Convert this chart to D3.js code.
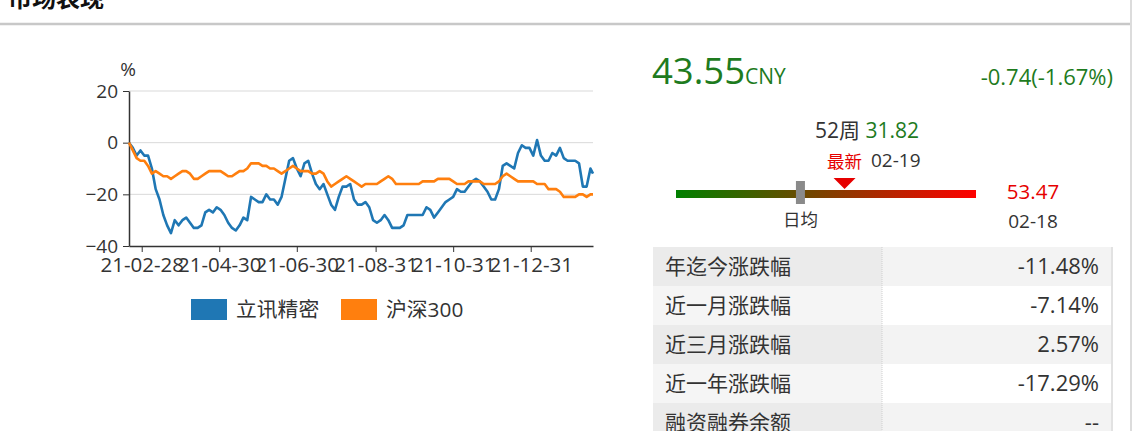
<!DOCTYPE html>
<html>
<head>
<meta charset="utf-8">
<script src="https://cdn.jsdelivr.net/npm/d3@7"></script>
<style>
  body { margin: 0; background: #fff; }
  svg text { font-family: "Open Sans", "Noto Sans CJK SC", sans-serif; }
</style>
</head>
<body>
<div id="chart"></div>
<script>
// dates of the sampled points (every 3 days)
const dates = [
  "2021-02-18","2021-02-21","2021-02-24","2021-02-27","2021-03-02","2021-03-05","2021-03-08","2021-03-11","2021-03-14","2021-03-17",
  "2021-03-20","2021-03-23","2021-03-26","2021-03-29","2021-04-01","2021-04-04","2021-04-07","2021-04-10","2021-04-13","2021-04-16",
  "2021-04-19","2021-04-22","2021-04-25","2021-04-28","2021-05-01","2021-05-04","2021-05-07","2021-05-10","2021-05-13","2021-05-16",
  "2021-05-19","2021-05-22","2021-05-25","2021-05-28","2021-05-31","2021-06-03","2021-06-06","2021-06-09","2021-06-12","2021-06-15",
  "2021-06-18","2021-06-21","2021-06-24","2021-06-27","2021-06-30","2021-07-03","2021-07-06","2021-07-09","2021-07-12","2021-07-15",
  "2021-07-18","2021-07-21","2021-07-24","2021-07-27","2021-07-30","2021-08-02","2021-08-05","2021-08-08","2021-08-11","2021-08-14",
  "2021-08-17","2021-08-20","2021-08-23","2021-08-26","2021-08-29","2021-09-01","2021-09-04","2021-09-07","2021-09-10","2021-09-13",
  "2021-09-16","2021-09-19","2021-09-22","2021-09-25","2021-09-28","2021-10-01","2021-10-04","2021-10-07","2021-10-10","2021-10-13",
  "2021-10-16","2021-10-19","2021-10-22","2021-10-25","2021-10-28","2021-10-31","2021-11-03","2021-11-06","2021-11-09","2021-11-12",
  "2021-11-15","2021-11-18","2021-11-21","2021-11-24","2021-11-27","2021-11-30","2021-12-03","2021-12-06","2021-12-09","2021-12-12",
  "2021-12-15","2021-12-18","2021-12-21","2021-12-24","2021-12-27","2021-12-30","2022-01-02","2022-01-05","2022-01-08","2022-01-11",
  "2022-01-14","2022-01-17","2022-01-20","2022-01-23","2022-01-26","2022-01-29","2022-02-01","2022-02-04","2022-02-07","2022-02-10",
  "2022-02-13","2022-02-16","2022-02-18"
];

// 立讯精密, % change
const lxjm = [
  0,-2,-5,-3,-5,-5,-10,-18,-22,-28,
  -32,-35,-30,-32,-30,-29,-31,-33,-33,-32,
  -27,-26,-27,-25,-26,-28,-31,-33,-34,-32,
  -29,-30,-21,-22,-23,-23,-20,-22,-22,-24,
  -21,-14,-7,-6,-10,-13,-8,-7,-12,-16,
  -18,-16,-20,-24,-26,-21,-17,-17,-16,-22,
  -24,-24,-23,-25,-30,-31,-30,-28,-30,-33,
  -33,-33,-32,-28,-28,-28,-28,-28,-25,-26,
  -29,-27,-25,-23,-22,-21,-18,-19,-19,-17,
  -15,-14,-15,-17,-19,-22,-22,-18,-9,-8,
  -9,-10,-4,-1,-2,-2,-5,1,-5,-7,
  -7,-4,-5,-2,-6,-7,-7,-7,-8,-17,
  -17,-10,-12
];

// 沪深300, % change
const hs300 = [
  0,-3,-6,-7,-7,-9,-12,-11,-12,-13,
  -13,-14,-13,-12,-11,-11,-12,-14,-14,-13,
  -12,-11,-11,-11,-11,-12,-13,-13,-12,-11,
  -11,-10,-8,-8,-8,-9,-9,-10,-10,-11,
  -12,-11,-10,-9,-10,-11,-11,-11,-12,-12,
  -11,-12,-15,-17,-16,-15,-14,-13,-14,-15,
  -16,-17,-16,-16,-16,-16,-15,-14,-13,-14,
  -16,-16,-16,-16,-16,-16,-16,-15,-15,-15,
  -15,-14,-14,-14,-14,-15,-16,-16,-16,-15,
  -15,-15,-15,-16,-16,-16,-16,-15,-13,-12,
  -13,-14,-15,-15,-15,-15,-15,-16,-16,-16,
  -18,-18,-18,-19,-21,-21,-21,-21,-20,-20,
  -21,-20,-20
];

const seriesNames = ["立讯精密", "沪深300"];
const seriesColors = ["#1f77b4", "#ff7f0e"];
const yTicks = [20, 0, -20, -40];
const xTicks = ["2021-02-28", "2021-04-30", "2021-06-30", "2021-08-31", "2021-10-31", "2021-12-31"];

// price panel
const lastPrice = 43.55;
const change = "-0.74(-1.67%)";
const low52 = 31.82, low52Date = "02-19";
const high52 = 53.47, high52Date = "02-18";
const dailyAvg = 40.8;

const statLabels = ["年迄今涨跌幅", "近一月涨跌幅", "近三月涨跌幅", "近一年涨跌幅", "融资融券余额"];
const statValues = ["-11.48%", "-7.14%", "2.57%", "-17.29%", "--"];

const parse = d3.timeParse("%Y-%m-%d");
const W = 1134, H = 431;
const green = "#1e7b1e", red = "#e60000", dark = "#333";

const svg = d3.select("#chart").append("svg")
  .attr("width", W)
  .attr("height", H);

// header
svg.append("text")
  .attr("x", 8).attr("y", 7)
  .attr("font-size", 24).attr("font-weight", "bold").attr("fill", "#111")
  .text("市场表现");
svg.append("line")
  .attr("x1", 0).attr("x2", 1131).attr("y1", 24).attr("y2", 24)
  .attr("stroke", "#c8c8c8").attr("stroke-width", 2.5);
svg.append("line")
  .attr("x1", 1131).attr("x2", 1131).attr("y1", 0).attr("y2", H)
  .attr("stroke", "#dcdcdc").attr("stroke-width", 2);

// ---- line chart ----
const x = d3.scaleTime()
  .domain([parse("2021-02-18"), parse("2022-02-18")])
  .range([129, 593]);

const y = d3.scaleLinear()
  .domain([-40, 20])
  .range([246, 91]);

svg.append("g")
  .selectAll("line")
  .data(yTicks.filter(d => d !== -40))
  .enter().append("line")
  .attr("x1", 129).attr("x2", 593)
  .attr("y1", d => y(d)).attr("y2", d => y(d))
  .attr("stroke", "#d9d9d9").attr("stroke-width", 1);

const yAxis = svg.append("g")
  .attr("transform", "translate(129,0)")
  .call(d3.axisLeft(y).tickValues(yTicks).tickSize(6).tickSizeOuter(0).tickPadding(5));

const xAxis = svg.append("g")
  .attr("transform", "translate(0,246)")
  .call(d3.axisBottom(x)
    .tickValues(xTicks.map(parse))
    .tickFormat(d3.timeFormat("%y-%m-%d"))
    .tickSize(6).tickSizeOuter(0).tickPadding(5));

[yAxis, xAxis].forEach(g => {
  g.selectAll("line").attr("stroke", dark);
  g.select(".domain").attr("stroke", dark).attr("stroke-width", 1.5);
});
yAxis.selectAll("text").attr("font-size", 19).attr("fill", dark);
xAxis.selectAll("text").attr("font-size", 20.5).attr("fill", dark);

svg.append("text")
  .attr("x", 128).attr("y", 76)
  .attr("text-anchor", "middle")
  .attr("font-size", 19).attr("fill", dark)
  .text("%");

const line = d3.line()
  .x((d, i) => x(parse(dates[i])))
  .y(d => y(d));

[lxjm, hs300].forEach((values, i) => {
  svg.append("path")
    .datum(values)
    .attr("fill", "none")
    .attr("stroke", seriesColors[i])
    .attr("stroke-width", 2.6)
    .attr("stroke-linejoin", "round")
    .attr("d", line);
});

// legend
const legendX = [191, 341];
const legend = svg.append("g")
  .selectAll("g")
  .data(seriesNames)
  .enter().append("g")
  .attr("transform", (d, i) => "translate(" + legendX[i] + ",299)");
legend.append("rect")
  .attr("width", 36).attr("height", 21)
  .attr("fill", (d, i) => seriesColors[i]);
legend.append("text")
  .attr("x", 45).attr("y", 18)
  .attr("font-size", 20.8).attr("fill", dark)
  .text(d => d);

// ---- price panel ----
const price = svg.append("text")
  .attr("x", 652).attr("y", 84)
  .attr("fill", green);
price.append("tspan").attr("font-size", 36.5).text(lastPrice.toFixed(2));
price.append("tspan").attr("font-size", 21).text("CNY");

svg.append("text")
  .attr("x", 1113).attr("y", 85)
  .attr("text-anchor", "end")
  .attr("font-size", 22).attr("fill", green)
  .text(change);

const wk = svg.append("text")
  .attr("x", 815).attr("y", 138)
  .attr("font-size", 21);
wk.append("tspan").attr("fill", dark).text("52周 ");
wk.append("tspan").attr("fill", green).text(low52.toFixed(2));

svg.append("text")
  .attr("x", 871).attr("y", 167)
  .attr("font-size", 19).attr("fill", dark)
  .text(low52Date);

// 52-week range bar
const bar = d3.scaleLinear()
  .domain([low52, high52])
  .range([676, 976]);

const grad = svg.append("defs").append("linearGradient")
  .attr("id", "rangeGrad");
grad.append("stop").attr("offset", "0%").attr("stop-color", "#008000");
grad.append("stop").attr("offset", "100%").attr("stop-color", "#ff0000");

svg.append("rect")
  .attr("x", bar(low52)).attr("y", 190)
  .attr("width", bar(high52) - bar(low52)).attr("height", 8)
  .attr("fill", "url(#rangeGrad)");

svg.append("rect")
  .attr("x", bar(dailyAvg) - 4.5).attr("y", 181)
  .attr("width", 9).attr("height", 23)
  .attr("fill", "#8a8a8a");

svg.append("text")
  .attr("x", bar(dailyAvg)).attr("y", 226)
  .attr("text-anchor", "middle")
  .attr("font-size", 17.5).attr("fill", dark)
  .text("日均");

const tx = bar(lastPrice) + 6;
svg.append("path")
  .attr("d", "M" + (tx - 11) + ",178L" + (tx + 11) + ",178L" + tx + ",189Z")
  .attr("fill", red);
svg.append("text")
  .attr("x", tx).attr("y", 168)
  .attr("text-anchor", "middle")
  .attr("font-size", 17.5).attr("fill", red)
  .text("最新");

svg.append("text")
  .attr("x", 1033).attr("y", 199)
  .attr("text-anchor", "middle")
  .attr("font-size", 20.5).attr("fill", red)
  .text(high52.toFixed(2));
svg.append("text")
  .attr("x", 1033).attr("y", 228)
  .attr("text-anchor", "middle")
  .attr("font-size", 19).attr("fill", dark)
  .text(high52Date);

// stats table
const rowH = 39;
const rows = svg.append("g")
  .selectAll("g")
  .data(statLabels)
  .enter().append("g")
  .attr("transform", (d, i) => "translate(0," + (247 + i * rowH) + ")");
rows.append("rect")
  .attr("x", 653).attr("width", 229).attr("height", rowH)
  .attr("fill", (d, i) => i % 2 === 0 ? "#ebebeb" : "#f5f5f5");
rows.append("rect")
  .attr("x", 882).attr("width", 229).attr("height", rowH)
  .attr("fill", (d, i) => i % 2 === 0 ? "#f3f3f3" : "#ffffff");
rows.append("text")
  .attr("x", 665).attr("y", 27)
  .attr("font-size", 21).attr("fill", dark)
  .text(d => d);
rows.append("text")
  .attr("x", 1099).attr("y", 27)
  .attr("text-anchor", "end")
  .attr("font-size", 22).attr("fill", dark)
  .text((d, i) => statValues[i]);

svg.append("line")
  .attr("x1", 882).attr("x2", 882).attr("y1", 247).attr("y2", H)
  .attr("stroke", "#cfcfcf").attr("stroke-dasharray", "1,1");
svg.append("line")
  .attr("x1", 1112).attr("x2", 1112).attr("y1", 247).attr("y2", H)
  .attr("stroke", "#e2e2e2").attr("stroke-width", 2);
</script>
</body>
</html>
